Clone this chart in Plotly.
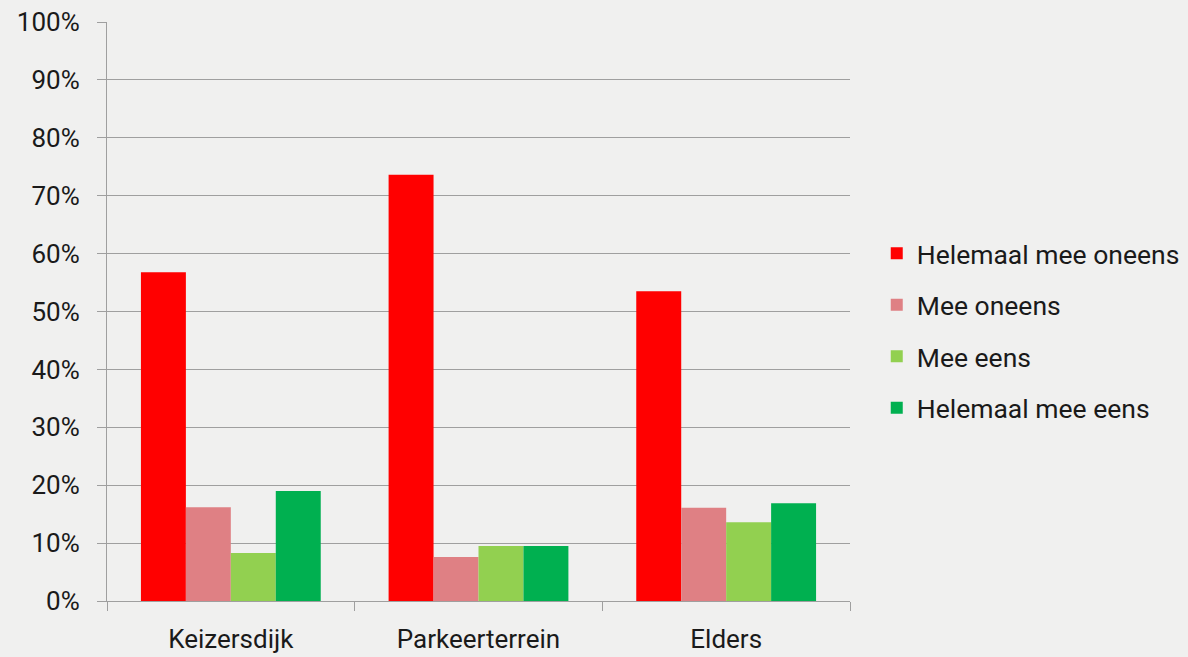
import plotly.graph_objects as go

categories = ["Keizersdijk", "Parkeerterrein", "Elders"]
series_names = ["Helemaal mee oneens", "Mee oneens", "Mee eens", "Helemaal mee eens"]
helemaal_oneens = [0.568, 0.736, 0.535]
oneens = [0.162, 0.076, 0.161]
eens = [0.083, 0.095, 0.136]
helemaal_eens = [0.190, 0.095, 0.169]
colors = ["#FF0000", "#DF8084", "#92D050", "#00B050"]

values = [helemaal_oneens, oneens, eens, helemaal_eens]

fig = go.Figure()
for i, (name, vals, col) in enumerate(zip(series_names, values, colors)):
    fig.add_trace(go.Bar(x=categories, y=vals, name=name, marker=dict(color=col, line=dict(width=0)),
                         legendgroup=f"g{i}"))

fig.update_layout(
    width=1188, height=657,
    paper_bgcolor="#F0F0EF", plot_bgcolor="#F0F0EF",
    font=dict(family="Roboto", size=26, color="#1a1a1a"),
    margin=dict(l=107, r=338, t=22, b=56, autoexpand=False),
    barmode="group", bargap=0.274, bargroupgap=0,
    legend=dict(x=1.036, xanchor="left", xref="paper", y=0.467, yanchor="middle",
                font=dict(size=26.5), tracegroupgap=14, bgcolor="rgba(0,0,0,0)",
                itemclick=False),
    xaxis=dict(showline=True, linecolor="#9f9f9f", linewidth=1.2, ticks="outside", tickson="boundaries",
               ticklen=9, tickcolor="#9f9f9f", tickwidth=1.2, showgrid=False, ticklabelstandoff=15),
    yaxis=dict(range=[0, 1], dtick=0.1, tickformat=".0%", showline=True, linecolor="#9f9f9f", linewidth=1.2,
               ticks="outside", ticklen=9, tickcolor="#9f9f9f", tickwidth=1.2, showgrid=True, gridcolor="#9f9f9f",
               gridwidth=1.2, zeroline=False, ticklabelstandoff=12),
)
fig.write_html("out.html", config={"displayModeBar": False},
               post_script="document.body.style.margin='0';document.body.style.background='#F0F0EF';document.body.style.overflow='hidden';")
